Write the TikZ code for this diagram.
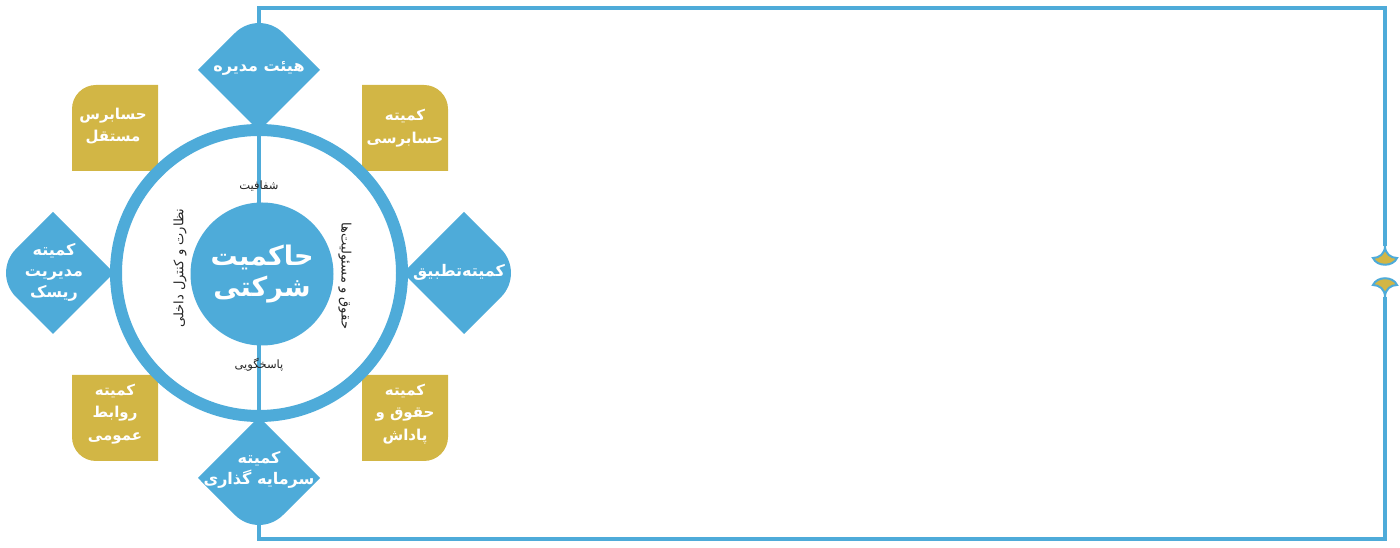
\documentclass[tikz,border=0pt]{standalone}
\usepackage{fontspec}
\newfontfamily\farsi[Script=Arabic]{DejaVu Sans}
\TeXXeTstate=1
\usetikzlibrary{positioning, backgrounds}
\definecolor{govblue}{HTML}{4EABD9}
\definecolor{govgold}{HTML}{D2B645}
\newcommand{\fa}[1]{\beginR #1\endR}
% leaf = diamond with its outer corner rounded
\newcommand{\leafshape}[2]{\fill[govblue, shift={(#1)}, rotate=#2] (-61,0) -- (-24,37) arc[start angle=135, end angle=45, radius=34pt] -- (61,0) -- (0,-61) -- cycle;}
% gold box with one rounded corner
\newcommand{\boxshape}[2]{\fill[govgold, shift={(#1)}, rotate=#2] (-43,-43) -- (-43,19) arc[start angle=180, end angle=90, radius=24pt] -- (43,43) -- (43,-43) -- cycle;}

\begin{document}
\begin{tikzpicture}[x=1pt, y=1pt,
        every node/.style={font=\farsi},
        hub/.style={circle, fill=govblue, minimum size=143pt, inner sep=0pt, align=center, text=white, font=\farsi\bfseries\fontsize{27pt}{31pt}\selectfont},
        leaftxt/.style={align=center, text=white, font=\farsi\bfseries\fontsize{16pt}{21pt}\selectfont},
        boxtxt/.style={align=center, text=white, font=\farsi\bfseries\fontsize{15pt}{22.5pt}\selectfont},
        ringtxt/.style={text=black!85, inner sep=1pt, font=\farsi\fontsize{11.5pt}{14pt}\selectfont},
        sidetxt/.style={ringtxt, font=\farsi\fontsize{13pt}{14pt}\selectfont},
        frameline/.style={draw=govblue, line width=4pt},
        ringline/.style={draw=govblue, line width=12pt, fill=white},
        cusp/.style={fill=govgold, draw=govblue, line width=2pt}
    ]
        \useasboundingbox (0,0) rectangle (1400,548);
        \coordinate (core) at (259,275);

        \node[hub] (hub) at (262,274) {\fa{حاکمیت}\\\fa{شرکتی}};

        \node[leaftxt] (board) at (259,480) {\fa{هیئت مدیره}};
        \node[leaftxt] (comply) at (459,276) {\fa{کمیته‌تطبیق}};
        \node[leaftxt] (invest) at (259,78) {\fa{کمیته}\\\fa{سرمایه گذاری}};
        \node[leaftxt] (risk) at (54,276) {\fa{کمیته}\\\fa{مدیریت}\\\fa{ریسک}};

        \node[boxtxt] (auditor) at (113,422) {\fa{حسابرس}\\\fa{مستقل}};
        \node[boxtxt] (auditcom) at (405,420) {\fa{کمیته}\\\fa{حسابرسی}};
        \node[boxtxt] (pubrel) at (115,134) {\fa{کمیته}\\\fa{روابط}\\\fa{عمومی}};
        \node[boxtxt] (reward) at (405,134) {\fa{کمیته}\\\fa{حقوق و}\\\fa{پاداش}};

        \node[ringtxt] (transp) at (259,362) {\fa{شفافیت}};
        \node[ringtxt] (account) at (259,183) {\fa{پاسخگویی}};
        \node[sidetxt, rotate=90] (control) at (180,280) {\fa{نظارت و کنترل داخلی}};
        \node[sidetxt, rotate=-90] (rights) at (345,272) {\fa{حقوق و مسئولیت‌ها}};

        \coordinate (spineTop) at (259,540);
        \coordinate (spineBot) at (259,9);
        \coordinate (frameNE) at (1385,540);
        \coordinate (frameSE) at (1385,9);
        \coordinate (tipUp) at (1385,302);
        \coordinate (tipDown) at (1385,251);

        \begin{pgfonlayer}{background}
            \boxshape{115,420}{0}
            \boxshape{405,420}{-90}
            \boxshape{405,130}{180}
            \boxshape{115,130}{90}
            \draw[ringline] (core) circle[radius=143pt];
            \draw[frameline] (tipUp) -- (frameNE) -- (spineTop) -- (spineBot) -- (frameSE) -- (tipDown);
            \leafshape{259,478}{0}
            \leafshape{464,275}{-90}
            \leafshape{259,70}{180}
            \leafshape{53,275}{90}
        \end{pgfonlayer}
        \draw[cusp] (tipUp) .. controls ++(0,-8) and ++(6,0) .. ++(-12,-12) .. controls ++(4,-9) and ++(-4,-9) .. ++(24,0) .. controls ++(-6,0) and ++(0,-8) .. (tipUp) -- cycle;
        \draw[cusp] (tipDown) .. controls ++(0,8) and ++(6,0) .. ++(-12,12) .. controls ++(4,9) and ++(-4,9) .. ++(24,0) .. controls ++(-6,0) and ++(0,8) .. (tipDown) -- cycle;
    \end{tikzpicture}
\end{document}
